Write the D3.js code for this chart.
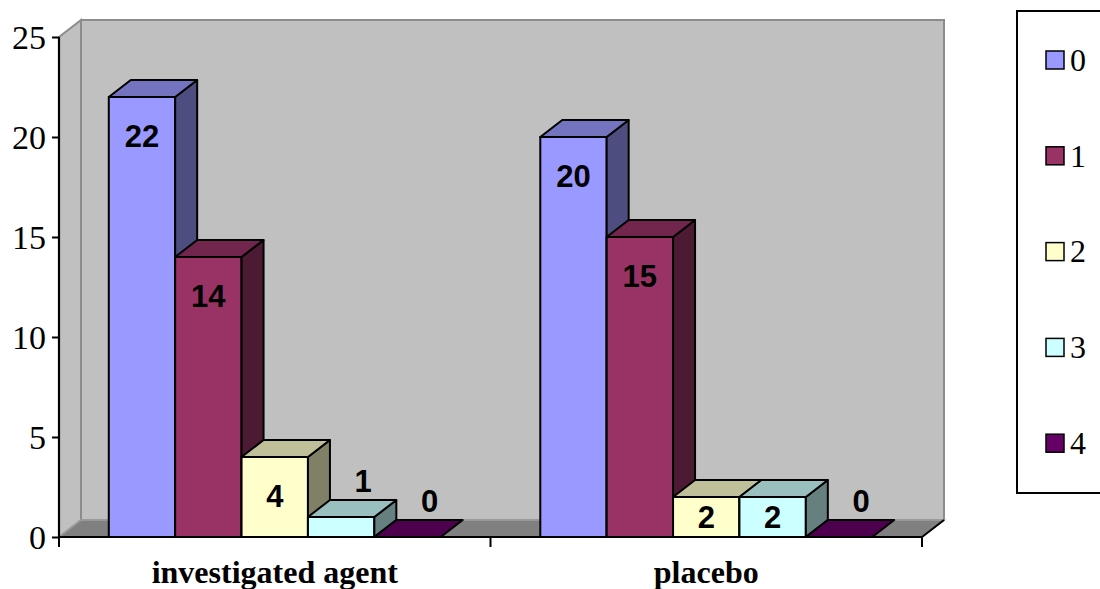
<!DOCTYPE html>
<html>
<head>
<meta charset="utf-8">
<script src="https://cdn.jsdelivr.net/npm/d3@7"></script>
<style>
  html, body { margin: 0; padding: 0; background: #fff; }
  svg { display: block; }
</style>
</head>
<body>
<svg id="chart" width="1100" height="589"></svg>
<script>
// Groups on the x axis, series shown side by side inside each group
const categories = ["investigated agent", "placebo"];
const seriesNames = ["0", "1", "2", "3", "4"];
const series0 = [22, 20];
const series1 = [14, 15];
const series2 = [4, 2];
const series3 = [1, 2];
const series4 = [0, 0];
const yTicks = [0, 5, 10, 15, 20, 25];

const seriesValues = [series0, series1, series2, series3, series4];
const frontColors = ["#9999ff", "#993366", "#ffffcc", "#ccffff", "#660066"];

const svg = d3.select("#chart");

// 3D depth offset of the plot box and the columns
const DX = 22, DY = 17;

const x0 = d3.scaleBand().domain(categories).range([59, 922]).padding(0);
const x1 = d3.scaleBand().domain(seriesNames).range([0, x0.bandwidth()])
  .paddingInner(0).paddingOuter(0.75);
const y = d3.scaleLinear().domain([0, 25]).range([537, 37]);

const shade = (c, k) => {
  const r = d3.rgb(c);
  return d3.rgb(r.r * k, r.g * k, r.b * k).formatHex();
};
const poly = pts => "M" + pts.map(p => p.join(",")).join("L") + "Z";

const xL = x0.range()[0], xR = x0.range()[1];
const yB = y(0), yT = y(25);

// Back wall
svg.append("path")
  .attr("d", poly([[xL + DX, yT - DY], [xR + DX, yT - DY], [xR + DX, yB - DY], [xL + DX, yB - DY]]))
  .attr("fill", "#c0c0c0").attr("stroke", "#8c8c8c").attr("stroke-width", 2);
// Side wall
svg.append("path")
  .attr("d", poly([[xL, yT], [xL + DX, yT - DY], [xL + DX, yB - DY], [xL, yB]]))
  .attr("fill", "#c0c0c0").attr("stroke", "#8c8c8c").attr("stroke-width", 2);
// Floor
svg.append("path")
  .attr("d", poly([[xL, yB], [xL + DX, yB - DY], [xR + DX, yB - DY], [xR, yB]]))
  .attr("fill", "#808080").attr("stroke", "#a0a0a0").attr("stroke-width", 1.5);
svg.append("line")
  .attr("x1", xR).attr("y1", yB).attr("x2", xR + DX).attr("y2", yB - DY)
  .attr("stroke", "#000").attr("stroke-width", 2);

// Columns, drawn left to right so each front face covers its neighbour's side
const bars = [];
categories.forEach((cat, ci) => {
  seriesNames.forEach((s, si) => {
    bars.push({ cat, s, si, v: seriesValues[si][ci] });
  });
});

const g = svg.append("g");
bars.forEach(b => {
  const xa = x0(b.cat) + x1(b.s), xb = xa + x1.bandwidth();
  const yt = y(b.v);
  const col = frontColors[b.si];
  const bg = g.append("g");
  if (b.v > 0) {
    bg.append("path").attr("d", poly([[xa, yt], [xb, yt], [xb, yB], [xa, yB]]))
      .attr("fill", col);
    bg.append("path").attr("d", poly([[xb, yt], [xb + DX, yt - DY], [xb + DX, yB - DY], [xb, yB]]))
      .attr("fill", shade(col, 0.5));
  }
  bg.append("path").attr("d", poly([[xa, yt], [xa + DX, yt - DY], [xb + DX, yt - DY], [xb, yt]]))
    .attr("fill", shade(col, 0.75));
  bg.selectAll("path").attr("stroke", "#000").attr("stroke-width", 2).attr("stroke-linejoin", "round");
});

// Axes
const yAxis = d3.axisLeft(y).tickValues(yTicks).tickSize(7).tickPadding(6).tickFormat(d3.format("d"));
const ya = svg.append("g").attr("transform", `translate(${xL},0)`).call(yAxis);
ya.select(".domain").attr("stroke", "#000").attr("stroke-width", 2.2).attr("d", `M0,${yT}V${yB}`);
ya.selectAll(".tick line").attr("stroke", "#000").attr("stroke-width", 2);
ya.selectAll(".tick text")
  .attr("font-family", "'Liberation Serif', 'Times New Roman', serif")
  .attr("font-size", 34).attr("fill", "#000").attr("dy", "0.34em");

const xAxis = d3.axisBottom(x0).tickSize(0).tickPadding(0);
const xa = svg.append("g").attr("transform", `translate(0,${yB})`).call(xAxis);
xa.select(".domain").attr("stroke", "#000").attr("stroke-width", 2.2).attr("d", `M${xL},0H${xR}`);
xa.selectAll(".tick text")
  .attr("y", 46).attr("dy", 0)
  .attr("font-family", "'Liberation Serif', 'Times New Roman', serif")
  .attr("font-weight", "bold").attr("font-size", 32).attr("fill", "#000");
// Separator ticks at group boundaries
const bounds = [xL, x0(categories[1]), xR];
xa.selectAll(".sep").data(bounds).join("line")
  .attr("x1", d => d).attr("x2", d => d).attr("y1", 0).attr("y2", 10)
  .attr("stroke", "#000").attr("stroke-width", 2);

// Value labels
bars.forEach(b => {
  const xa2 = x0(b.cat) + x1(b.s), w = x1.bandwidth();
  const yt = y(b.v);
  const hBar = yB - yt;
  let cx, cy;
  if (hBar >= 30) {
    cx = xa2 + w / 2;
    cy = Math.min(yt + 39, yt + hBar / 2);
  } else {
    cx = xa2 + w / 2 + DX;
    cy = yt - 36;
  }
  svg.append("text")
    .attr("x", cx).attr("y", cy).attr("dy", "0.36em")
    .attr("text-anchor", "middle")
    .attr("font-family", "'Liberation Sans', Arial, sans-serif")
    .attr("font-weight", "bold").attr("font-size", 31).attr("fill", "#000")
    .text(b.v);
});

// Legend
const lg = svg.append("g");
lg.append("rect").attr("x", 1017).attr("y", 11).attr("width", 100).attr("height", 482)
  .attr("fill", "#fff").attr("stroke", "#000").attr("stroke-width", 2);
const item = lg.selectAll(".item").data(seriesNames).join("g")
  .attr("transform", (d, i) => `translate(1046,${60 + i * 95.8})`);
item.append("rect").attr("x", 0).attr("y", -9).attr("width", 18).attr("height", 18)
  .attr("fill", (d, i) => frontColors[i]).attr("stroke", "#000").attr("stroke-width", 1.5);
item.append("text").attr("x", 24).attr("y", 0).attr("dy", "0.34em")
  .attr("font-family", "'Liberation Serif', 'Times New Roman', serif")
  .attr("font-size", 32).attr("fill", "#000")
  .text(d => d);
</script>
</body>
</html>
